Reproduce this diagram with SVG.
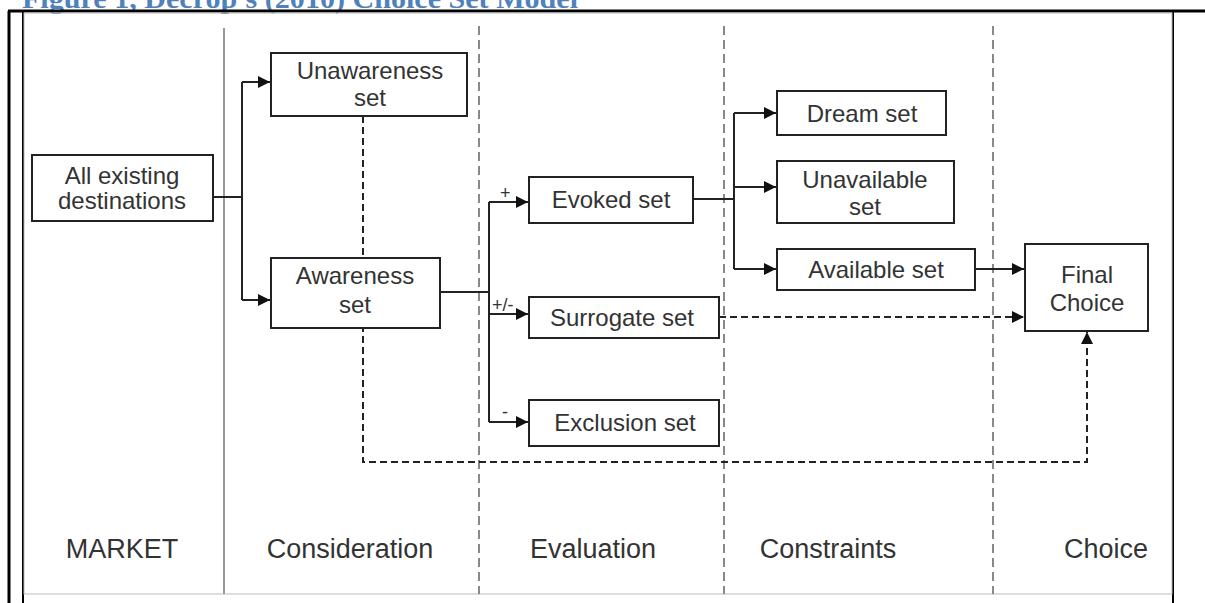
<svg xmlns="http://www.w3.org/2000/svg" width="1205" height="603" viewBox="0 0 1205 603">
<style>
.box{fill:#fff;stroke:#222;stroke-width:2}
.t{font-family:"Liberation Sans",Arial,sans-serif;font-size:24px;fill:#333;text-anchor:middle}
.lab{font-family:"Liberation Sans",Arial,sans-serif;font-size:27px;fill:#333;text-anchor:middle}
.sm{font-family:"Liberation Sans",Arial,sans-serif;font-size:18px;fill:#333}
.ln{fill:none;stroke:#222;stroke-width:2}
.dl{fill:none;stroke:#222;stroke-width:2;stroke-dasharray:7,4}
.div{fill:none;stroke:#888;stroke-width:2;stroke-dasharray:9,5}
</style>
<defs>
<marker id="ah" viewBox="0 0 10 10" refX="10" refY="5" markerWidth="6" markerHeight="6" orient="auto" markerUnits="strokeWidth">
<path d="M0,0 L10,5 L0,10 z" fill="#111"/>
</marker>
</defs>
<rect width="1205" height="603" fill="#fff"/>
<text x="22" y="8" font-family="'Liberation Serif',serif" font-weight="bold" font-size="27" fill="#4F81BD" textLength="556" lengthAdjust="spacingAndGlyphs">Figure 1, Decrop's (2010) Choice Set Model</text>
<g id="frame">
<line x1="8" y1="11" x2="1205" y2="11" stroke="#000" stroke-width="3"/>
<line x1="9" y1="11" x2="9" y2="603" stroke="#000" stroke-width="3"/>
<line x1="23" y1="11" x2="23" y2="603" stroke="#000" stroke-width="2"/>
<line x1="1173" y1="11" x2="1173" y2="603" stroke="#000" stroke-width="2"/>
<rect x="24" y="13" width="1148" height="581" fill="none" stroke="#bbb" stroke-width="1"/>
</g>
<g id="dividers">
<line x1="224" y1="28" x2="224" y2="594" stroke="#999" stroke-width="2"/>
<line x1="479" y1="26" x2="479" y2="594" class="div"/>
<line x1="724" y1="26" x2="724" y2="594" class="div"/>
<line x1="993" y1="26" x2="993" y2="594" class="div"/>
</g>
<g id="connectors">
<path class="ln" d="M213,197 H242 M242,82 V300"/>
<path class="ln" d="M242,82 H270" marker-end="url(#ah)"/>
<path class="ln" d="M242,300 H270" marker-end="url(#ah)"/>
<path class="ln" d="M440,292 H489 M489,202 V422"/>
<path class="ln" d="M489,202 H528" marker-end="url(#ah)"/>
<path class="ln" d="M489,314 H528" marker-end="url(#ah)"/>
<path class="ln" d="M489,422 H528" marker-end="url(#ah)"/>
<path class="ln" d="M693,199 H734 M734,113 V269"/>
<path class="ln" d="M734,113 H776" marker-end="url(#ah)"/>
<path class="ln" d="M734,187 H776" marker-end="url(#ah)"/>
<path class="ln" d="M734,269 H776" marker-end="url(#ah)"/>
<path class="ln" d="M975,269 H1024" marker-end="url(#ah)"/>
<path class="dl" d="M719,317 H1024" marker-end="url(#ah)"/>
<path class="dl" d="M363,116 V462 H1087 V332" marker-end="url(#ah)"/>
<text class="sm" x="500" y="199">+</text>
<text class="sm" x="492" y="311">+/-</text>
<text class="sm" x="502" y="418">-</text>
</g>
<g id="all-existing">
<rect class="box" x="32" y="155" width="181" height="66"/>
<text class="t" x="122" y="184">All existing</text>
<text class="t" x="122" y="209">destinations</text>
</g>
<g id="unawareness">
<rect class="box" x="271" y="53" width="196" height="63"/>
<text class="t" x="370" y="79">Unawareness</text>
<text class="t" x="370" y="106">set</text>
</g>
<g id="awareness">
<rect class="box" x="271" y="258" width="169" height="70"/>
<text class="t" x="355" y="284">Awareness</text>
<text class="t" x="355" y="313">set</text>
</g>
<g id="evoked">
<rect class="box" x="529" y="177" width="164" height="46"/>
<text class="t" x="611" y="208">Evoked set</text>
</g>
<g id="surrogate">
<rect class="box" x="529" y="297" width="190" height="41"/>
<text class="t" x="622" y="326">Surrogate set</text>
</g>
<g id="exclusion">
<rect class="box" x="529" y="400" width="190" height="46"/>
<text class="t" x="625" y="431">Exclusion set</text>
</g>
<g id="dream">
<rect class="box" x="777" y="91" width="169" height="44"/>
<text class="t" x="862" y="122">Dream set</text>
</g>
<g id="unavailable">
<rect class="box" x="777" y="161" width="177" height="62"/>
<text class="t" x="865" y="188">Unavailable</text>
<text class="t" x="865" y="215">set</text>
</g>
<g id="available">
<rect class="box" x="777" y="249" width="198" height="41"/>
<text class="t" x="876" y="278">Available set</text>
</g>
<g id="final-choice">
<rect class="box" x="1025" y="244" width="123" height="87"/>
<text class="t" x="1087" y="283">Final</text>
<text class="t" x="1087" y="311">Choice</text>
</g>
<g id="stage-labels">
<text class="lab" x="122" y="558">MARKET</text>
<text class="lab" x="350" y="558">Consideration</text>
<text class="lab" x="593" y="558">Evaluation</text>
<text class="lab" x="828" y="558">Constraints</text>
<text class="lab" x="1106" y="558">Choice</text>
</g>
</svg>
